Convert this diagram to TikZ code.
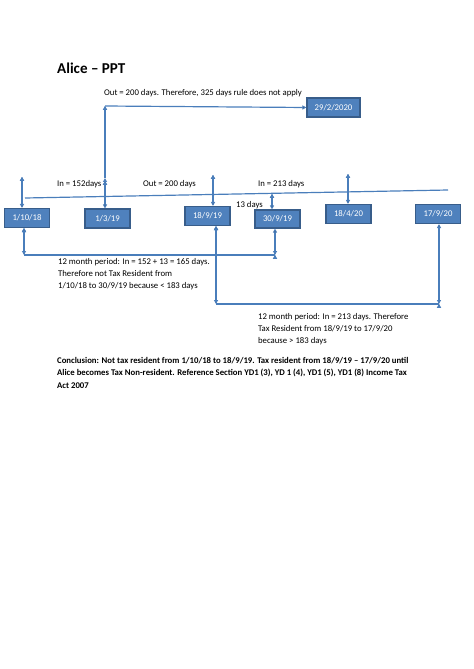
\documentclass[tikz,border=0pt]{standalone}
\usepackage{fontspec}
\setmainfont{Carlito}
\usetikzlibrary{arrows.meta}
\definecolor{boxblue}{HTML}{4F81BD}
\definecolor{boxedge}{HTML}{385D8A}
\definecolor{lineblue}{HTML}{4A7EBB}
\begin{document}
\begin{tikzpicture}[x=0.0443cm,y=-0.0443cm]

      \tikzset{datebox/.style={draw=boxedge, line width=1.4pt, fill=boxblue, text=white, minimum width=1.99cm, minimum height=0.84cm, inner sep=0pt, font=\fontsize{11}{13}\selectfont}}
      \tikzset{note/.style={inner sep=0pt, align=left, font=\fontsize{11}{15.6}\selectfont}}
      \tikzset{link/.style={draw=lineblue, line width=1.5pt, arrows={-Triangle[width=5pt,length=5pt]}}}
      \tikzset{both/.style={link, arrows={Triangle[width=5pt,length=5pt]-Triangle[width=5pt,length=5pt]}}}
      \tikzset{plain/.style={draw=lineblue, line width=1.5pt}}

      \useasboundingbox (0,0) rectangle (474,669);

%% Title
      	\node[inner sep=0pt, anchor=base west, font=\fontsize{19}{23}\bfseries] (title) at (57,74) {Alice -- PPT};
%% Dates
      	\node[datebox, minimum width=2.35cm] (feb20) at (333.5,107.5) {29/2/2020};
      	\node[datebox] (oct18) at (27,218) {1/10/18};
      	\node[datebox] (mar19) at (107.5,218.5) {1/3/19};
    		\node[datebox] (sep19a) at (207.5,216) {18/9/19};
  	    \node[datebox, minimum height=0.8cm] (sep19b) at (277.5,219) {30/9/19};
     	\node[datebox] (apr20) at (348.5,214) {18/4/20};
     	\node[datebox] (sep20) at (438,214) {17/9/20};
%% Timeline
      	\coordinate (tl1) at (25,198);
      	\coordinate (tl2) at (448,190);
%% Free ends
      	\coordinate (a1) at (22,177);
      	\coordinate (a2) at (105,178);
      	\coordinate (a3) at (105,106);
      	\coordinate (a4) at (213,175);
      	\coordinate (a5) at (272,194);
      	\coordinate (a6) at (348,174);
      	\coordinate (b1) at (24,255);
      	\coordinate (b2) at (275,255);
      	\coordinate (c1) at (216,304);
      	\coordinate (c2) at (439,304);
%% Labels
      	\node[note, anchor=west] (out1) at (104,93) {Out = 200 days. Therefore, 325 days rule does not apply};
      	\node[note, anchor=west] (in1) at (57,184) {In = 152days};
      	\node[note, anchor=west] (out2) at (143,184) {Out = 200 days};
      	\node[note, anchor=west] (in2) at (258,184) {In = 213 days};
      	\node[note, anchor=west] (d13) at (236,205) {13 days};
      	\node[note, anchor=north west] (per1) at (58,258) {12 month period: In = 152 + 13 = 165 days.\\Therefore not Tax Resident from\\1/10/18 to 30/9/19 because < 183 days};
      	\node[note, anchor=north west] (per2) at (258,313) {12 month period: In = 213 days. Therefore\\Tax Resident from 18/9/19 to 17/9/20\\because > 183 days};
      	\node[note, anchor=north west, font=\fontsize{11}{15.6}\bfseries] (concl) at (57,357) {Conclusion: Not tax resident from 1/10/18 to 18/9/19. Tax resident from 18/9/19 -- 17/9/20 until\\Alice becomes Tax Non-resident. Reference Section YD1 (3), YD 1 (4), YD1 (5), YD1 (8) Income Tax\\Act 2007};
%Edges
		\path[plain] (tl1) edge (tl2);
		\path[both] (a1) edge (a1 |- oct18.north);
		\path[link] (a2) edge (a3);
		\path[link] (a3) edge (feb20.west);
		\path[both] (a2 |- 0,181) edge (a2 |- mar19.north);
		\path[both] (a4) edge (a4 |- sep19a.north);
		\path[both] (a5) edge (a5 |- sep19b.north);
		\path[both] (a6) edge (a6 |- apr20.north);
		\path[both] (b1 |- oct18.south) edge (b1);
		\path[plain] (b1) edge (b2);
		\path[both] (b2) edge (b2 |- sep19b.south);
		\path[both] (c1 |- sep19a.south) edge (c1);
		\path[plain] (c1) edge (c2);
		\path[both] (c2) edge (c2 |- sep20.south);

	\end{tikzpicture}
\end{document}
